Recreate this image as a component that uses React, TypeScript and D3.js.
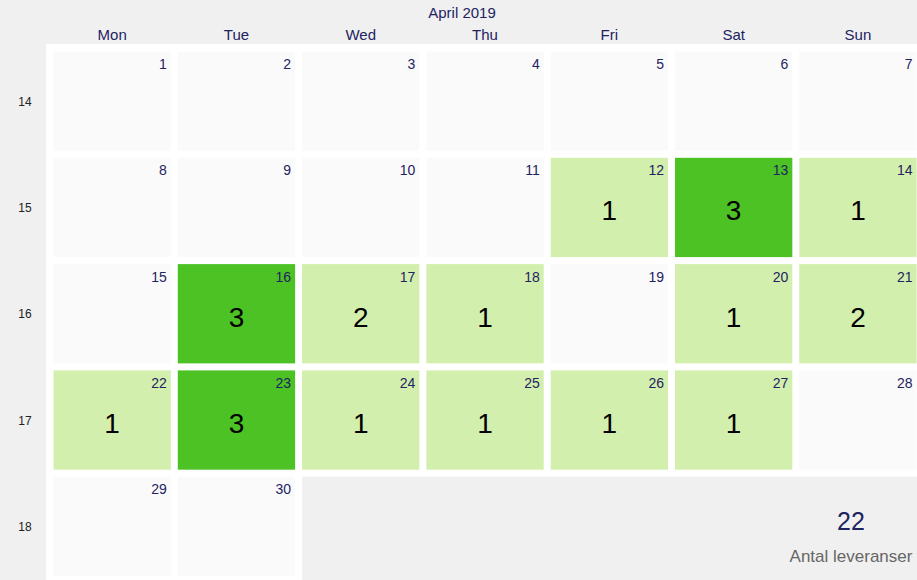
import React from "react";
import * as d3 from "d3";

const monthTitle = "April 2019";
const weekdays = ["Mon", "Tue", "Wed", "Thu", "Fri", "Sat", "Sun"];
const weeks = [14, 15, 16, 17, 18];
const days = d3.range(1, 31);
const deliveryDays = [12, 13, 14, 16, 17, 18, 20, 21, 22, 23, 24, 25, 26, 27];
const deliveryCounts = [1, 3, 1, 3, 2, 1, 1, 2, 1, 3, 1, 1, 1, 1];
const totalLabel = "Antal leveranser";

const W = 917;
const H = 580;

export default function App() {
  const x = d3.scaleBand<string>().domain(weekdays).range([50, 50 + 7 * 124.3]).paddingInner(0.056).paddingOuter(0.028);
  const y = d3.scaleBand<number>().domain(weeks).range([48, 48 + 5 * 106.3]).paddingInner(0.066).paddingOuter(0.033);
  const color = d3.scaleThreshold<number, string>().domain([1, 3]).range(["#fafafa", "#d3efad", "#4cc224"]);
  const valueByDay = new Map(deliveryDays.map((d, i) => [d, deliveryCounts[i]]));
  const total = d3.sum(deliveryCounts);
  const firstDow = 0; // April 1 2019 is a Monday
  const cells = days.map((d) => {
    const idx = d - 1 + firstDow;
    return { day: d, dow: weekdays[idx % 7], week: weeks[Math.floor(idx / 7)], value: valueByDay.get(d) ?? 0 };
  });
  const lastCell = cells[cells.length - 1];
  const emptyStartIdx = weekdays.indexOf(lastCell.dow) + 1;
  const emptyX = x(weekdays[emptyStartIdx]) as number;
  const lastWeekY = y(lastCell.week) as number;
  const bw = x.bandwidth();
  const bh = y.bandwidth();
  const navy = "#1e2361";

  return (
    <svg width={W} height={H} style={{ position: "absolute", left: 0, top: 0, fontFamily: "Liberation Sans, Arial, sans-serif" }}>
      <rect x={0} y={0} width={W} height={H} fill="#f0f0f0" />
      <rect x={46} y={44} width={W - 46} height={H - 44} fill="#ffffff" />
      <rect x={emptyX} y={lastWeekY} width={W - emptyX} height={H - lastWeekY} fill="#f0f0f0" />
      <text x={462} y={18} textAnchor="middle" fontSize={15} fill={navy}>{monthTitle}</text>
      {weekdays.map((d) => (
        <text key={d} x={(x(d) as number) + bw / 2} y={40} textAnchor="middle" fontSize={15} fill={navy}>{d}</text>
      ))}
      {weeks.map((w) => (
        <text key={w} x={25} y={(y(w) as number) + bh / 2 + 4.5} textAnchor="middle" fontSize={12} fill="#222222">{w}</text>
      ))}
      {cells.map((c) => {
        const cx = x(c.dow) as number;
        const cy = y(c.week) as number;
        return (
          <g key={c.day}>
            <rect x={cx} y={cy} width={bw} height={bh} fill={color(c.value)} />
            <text x={cx + bw - 4} y={cy + 17.5} textAnchor="end" fontSize={14} fill={navy}>{c.day}</text>
            {c.value > 0 && (
              <text x={cx + bw / 2} y={cy + bh / 2 + 13} textAnchor="middle" fontSize={28} fill="#000000">{c.value}</text>
            )}
          </g>
        );
      })}
      <text x={851} y={530} textAnchor="middle" fontSize={25} fill={navy}>{total}</text>
      <text x={851} y={562} textAnchor="middle" fontSize={17} fill="#666666">{totalLabel}</text>
    </svg>
  );
}
